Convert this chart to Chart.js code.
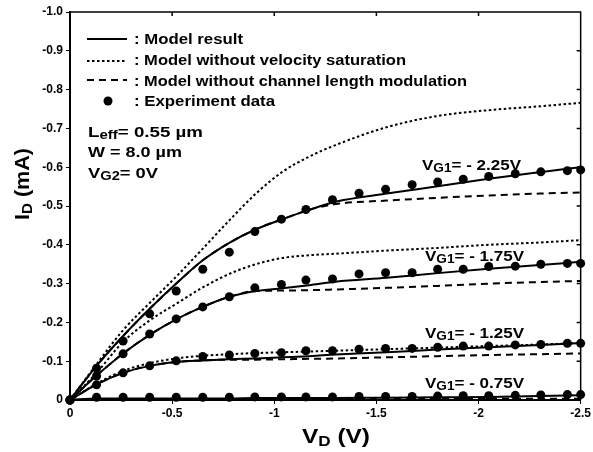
<!DOCTYPE html>
<html>
<head>
<meta charset="utf-8">
<script src="https://cdn.jsdelivr.net/npm/chart.js@4.4.1/dist/chart.umd.min.js"></script>
<style>
  html, body { margin: 0; padding: 0; background: #fff; }
</style>
</head>
<body>
<canvas id="c" width="593" height="452"></canvas>
<script>
// measured points (V_D in volts, I_D in mA)
var ptVd = [0, -0.13, -0.26, -0.39, -0.52, -0.65, -0.78, -0.905, -1.035, -1.155, -1.285, -1.415, -1.545, -1.675, -1.8, -1.925, -2.05, -2.18, -2.305, -2.435, -2.5];
var exp225 = [0, -0.082, -0.152, -0.222, -0.281, -0.337, -0.381, -0.434, -0.466, -0.491, -0.516, -0.533, -0.543, -0.555, -0.562, -0.569, -0.576, -0.583, -0.588, -0.591, -0.593];
var exp175 = [0, -0.062, -0.119, -0.17, -0.209, -0.24, -0.266, -0.289, -0.298, -0.309, -0.312, -0.325, -0.328, -0.328, -0.337, -0.337, -0.344, -0.345, -0.35, -0.352, -0.352];
var exp125 = [0, -0.039, -0.07, -0.088, -0.101, -0.112, -0.116, -0.12, -0.122, -0.127, -0.127, -0.131, -0.133, -0.133, -0.136, -0.139, -0.139, -0.142, -0.143, -0.146, -0.146];
var exp075 = [0, -0.007, -0.007, -0.007, -0.007, -0.007, -0.007, -0.008, -0.008, -0.008, -0.008, -0.009, -0.009, -0.009, -0.01, -0.011, -0.011, -0.012, -0.013, -0.014, -0.014];

// model curves
var modelVd = [0, -0.13, -0.26, -0.39, -0.52, -0.65, -0.78, -0.91, -1.04, -1.17, -1.3, -1.55, -1.8, -2.05, -2.3, -2.5];
var model225 = [0, -0.088, -0.165, -0.235, -0.3, -0.36, -0.405, -0.44, -0.466, -0.49, -0.511, -0.532, -0.551, -0.57, -0.587, -0.6];
var noClm225 = [0, -0.088, -0.165, -0.235, -0.3, -0.36, -0.405, -0.44, -0.466, -0.49, -0.505, -0.514, -0.521, -0.527, -0.532, -0.535];
var noVs225 = [0, -0.092, -0.18, -0.25, -0.318, -0.39, -0.463, -0.532, -0.588, -0.627, -0.657, -0.703, -0.732, -0.747, -0.757, -0.766];
var model175 = [0, -0.063, -0.12, -0.168, -0.208, -0.24, -0.266, -0.281, -0.288, -0.296, -0.305, -0.315, -0.327, -0.338, -0.348, -0.356];
var noClm175 = [0, -0.063, -0.12, -0.168, -0.208, -0.24, -0.266, -0.281, -0.282, -0.283, -0.285, -0.289, -0.294, -0.3, -0.304, -0.307];
var noVs175 = [0, -0.07, -0.15, -0.205, -0.248, -0.29, -0.325, -0.35, -0.366, -0.373, -0.377, -0.385, -0.392, -0.4, -0.406, -0.412];
var model125 = [0, -0.04, -0.07, -0.088, -0.098, -0.102, -0.105, -0.107, -0.11, -0.113, -0.117, -0.123, -0.13, -0.136, -0.142, -0.147];
var noClm125 = [0, -0.04, -0.07, -0.088, -0.098, -0.102, -0.104, -0.104, -0.105, -0.106, -0.107, -0.11, -0.113, -0.116, -0.118, -0.12];
var noVs125 = [0, -0.042, -0.075, -0.095, -0.107, -0.114, -0.118, -0.121, -0.123, -0.125, -0.127, -0.131, -0.135, -0.139, -0.143, -0.147];
var model075 = [0, -0.004, -0.004, -0.004, -0.004, -0.004, -0.004, -0.005, -0.005, -0.005, -0.005, -0.006, -0.007, -0.008, -0.01, -0.012];
var noClm075 = [0, -0.002, -0.002, -0.002, -0.002, -0.002, -0.002, -0.002, -0.003, -0.003, -0.003, -0.003, -0.003, -0.003, -0.003, -0.003];

var gateLabels = ["- 2.25V", "- 1.75V", "- 1.25V", "- 0.75V"];

var FONT = '"Liberation Sans", Arial, sans-serif';

function pairs(xs, ys) {
  return xs.map(function(x, i) { return { x: x, y: ys[i] }; });
}

function lineSet(ys, dash) {
  return {
    data: pairs(modelVd, ys),
    showLine: true,
    borderColor: "#000",
    borderWidth: 2,
    borderDash: dash,
    pointRadius: 0,
    cubicInterpolationMode: "monotone",
    fill: false,
    order: 2
  };
}

function pointSet(ys) {
  return {
    data: pairs(ptVd, ys),
    showLine: false,
    pointRadius: 4.5,
    pointBackgroundColor: "#000",
    pointBorderWidth: 0,
    clip: false,
    order: 0
  };
}

var datasets = [];
[[model225, noClm225, noVs225], [model175, noClm175, noVs175], [model125, noClm125, noVs125], [model075, noClm075, null]].forEach(function(g) {
  datasets.push(lineSet(g[0], []));
  datasets.push(lineSet(g[1], [7, 5]));
  if (g[2]) datasets.push(lineSet(g[2], [2.5, 2.5]));
});
[exp225, exp175, exp125, exp075].forEach(function(e) { datasets.push(pointSet(e)); });

// draws text made of parts (sub/superscripts), squeezed to a given width
function rich(ctx, x, y, parts, width) {
  var total = 0;
  parts.forEach(function(p) {
    ctx.font = "bold " + p.s + "px " + FONT;
    total += ctx.measureText(p.t).width;
  });
  var sx = width ? width / total : 1;
  ctx.save();
  ctx.translate(x, y);
  ctx.scale(sx, 1);
  ctx.fillStyle = "#000";
  ctx.textBaseline = "alphabetic";
  ctx.textAlign = "left";
  var cx = 0;
  parts.forEach(function(p) {
    ctx.font = "bold " + p.s + "px " + FONT;
    ctx.fillText(p.t, cx, p.dy || 0);
    cx += ctx.measureText(p.t).width;
  });
  ctx.restore();
}

var decor = {
  id: "decor",
  afterDraw: function(chart) {
    var ctx = chart.ctx, a = chart.chartArea;
    var xs = chart.scales.x, ys = chart.scales.y;
    ctx.save();
    // top / right frame with inward ticks
    ctx.strokeStyle = "#000";
    ctx.lineWidth = 1.5;
    ctx.beginPath();
    ctx.moveTo(a.left, a.top); ctx.lineTo(a.right, a.top); ctx.lineTo(a.right, a.bottom);
    ys.ticks.forEach(function(t) {
      var py = ys.getPixelForValue(t.value);
      ctx.moveTo(a.right, py); ctx.lineTo(a.right - 4, py);
    });
    xs.ticks.forEach(function(t) {
      var px = xs.getPixelForValue(t.value);
      ctx.moveTo(px, a.top); ctx.lineTo(px, a.top + 4);
    });
    ctx.stroke();

    // legend
    var lx0 = 87, lx1 = 127;
    ctx.lineWidth = 2;
    ctx.setLineDash([]);
    ctx.beginPath(); ctx.moveTo(lx0, 39); ctx.lineTo(lx1, 39); ctx.stroke();
    ctx.setLineDash([2.5, 2.5]);
    ctx.beginPath(); ctx.moveTo(lx0, 61); ctx.lineTo(lx1, 61); ctx.stroke();
    ctx.setLineDash([7, 5]);
    ctx.beginPath(); ctx.moveTo(lx0, 80); ctx.lineTo(lx1, 80); ctx.stroke();
    ctx.setLineDash([]);
    ctx.fillStyle = "#000";
    ctx.beginPath(); ctx.arc(108, 101, 4.5, 0, Math.PI * 2); ctx.fill();
    rich(ctx, 134, 44, [{ t: ": Model result", s: 14 }], 109);
    rich(ctx, 134, 65, [{ t: ": Model without velocity saturation", s: 14 }], 272);
    rich(ctx, 134, 85.5, [{ t: ": Model without channel length modulation", s: 14 }], 333);
    rich(ctx, 134, 106, [{ t: ": Experiment data", s: 14 }], 141);

    // device parameters
    rich(ctx, 88, 137, [{ t: "L", s: 15 }, { t: "eff", s: 12, dy: 2 }, { t: "= 0.55 \u00b5m", s: 15 }], 115);
    rich(ctx, 88, 157, [{ t: "W = 8.0 \u00b5m", s: 15 }], 94);
    rich(ctx, 88, 178, [{ t: "V", s: 15 }, { t: "G2", s: 12, dy: 2 }, { t: "= 0V", s: 15 }], 70);

    // gate voltage labels
    var gy = [170, 261, 338, 388], gx = [422, 425, 425, 425];
    gateLabels.forEach(function(g, i) {
      rich(ctx, gx[i], gy[i], [{ t: "V", s: 15 }, { t: "G1", s: 12, dy: 2 }, { t: "= " + g, s: 15 }], 99);
    });

    // axis titles
    rich(ctx, 302, 443, [{ t: "V", s: 20 }, { t: "D", s: 14, dy: 3 }, { t: " (V)", s: 20 }], 68);
    ctx.save();
    ctx.translate(29, 220);
    ctx.rotate(-Math.PI / 2);
    rich(ctx, 0, 0, [{ t: "I", s: 20 }, { t: "D", s: 14, dy: 3 }, { t: " (mA)", s: 20 }], 72);
    ctx.restore();
    ctx.restore();
  }
};

new Chart(document.getElementById("c").getContext("2d"), {
  type: "scatter",
  data: { datasets: datasets },
  options: {
    responsive: false,
    animation: false,
    layout: { padding: { top: 12, right: 9, left: 0, bottom: 0 } },
    plugins: { legend: { display: false }, tooltip: { enabled: false } },
    scales: {
      x: {
        type: "linear",
        min: -2.5, max: 0, reverse: true,
        afterFit: function(s) { s.height = 52; },
        border: { color: "#000", width: 2 },
        grid: { drawOnChartArea: false, color: "#000", tickLength: 4 },
        ticks: {
          stepSize: 0.5, color: "#000", padding: 2,
          font: { family: FONT, size: 12, weight: "bold" },
          callback: function(v) { return v === 0 ? "0" : String(Math.round(v * 10) / 10); }
        }
      },
      y: {
        type: "linear",
        min: -1, max: 0, reverse: true,
        afterFit: function(s) { s.width = 70; },
        border: { color: "#000", width: 2 },
        grid: { drawOnChartArea: false, color: "#000", tickLength: 4 },
        ticks: {
          stepSize: 0.1, color: "#000", padding: 3,
          font: { family: FONT, size: 12, weight: "bold" },
          callback: function(v) { return Math.abs(v) < 1e-9 ? "0" : v.toFixed(1); }
        }
      }
    }
  },
  plugins: [decor]
});
</script>
</body>
</html>
